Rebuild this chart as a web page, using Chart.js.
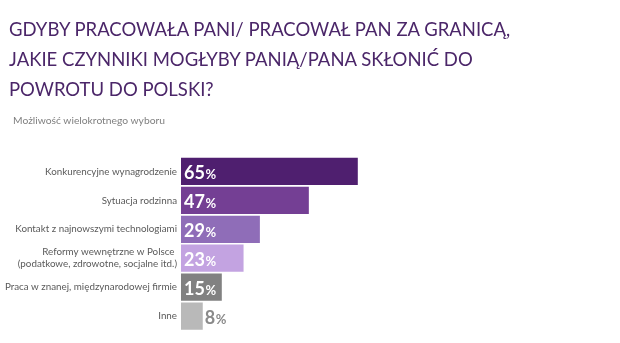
<!DOCTYPE html>
<html>
<head>
<meta charset="utf-8">
<title>Powrót do Polski</title>
<script src="https://cdn.jsdelivr.net/npm/chart.js@4"></script>
<style>
  html, body { margin: 0; padding: 0; background: #fff; }
  #wrap { width: 620px; height: 343px; position: relative; font-family: Lato, sans-serif; }
  #wrap canvas { position: absolute; left: 0; top: 0; }
  .heading {
    position: absolute; left: 9px; top: 14px; margin: 0;
    font-size: 18.5px; font-weight: normal; line-height: 30px;
    color: #4b2669; white-space: nowrap;
  }
  .note {
    position: absolute; left: 13px; top: 114px; margin: 0;
    font-size: 10.3px; line-height: 12px; color: #808080; white-space: nowrap;
  }
</style>
</head>
<body>
<div id="wrap">
  <canvas id="returnChart"></canvas>
  <h1 class="heading" id="heading"></h1>
  <p class="note" id="note"></p>
</div>
<script>
const titleLines = [
  "GDYBY PRACOWAŁA PANI/ PRACOWAŁ PAN ZA GRANICĄ,",
  "JAKIE CZYNNIKI MOGŁYBY PANIĄ/PANA SKŁONIĆ DO",
  "POWROTU DO POLSKI?",
];
const subtitleText = "Możliwość wielokrotnego wyboru";

const categories = [
  "Konkurencyjne wynagrodzenie",
  "Sytuacja rodzinna",
  "Kontakt z najnowszymi technologiami",
  ["Reformy wewnętrzne w Polsce ", "(podatkowe, zdrowotne, socjalne itd.)"],
  "Praca w znanej, międzynarodowej firmie",
  "Inne",
];
const values = [65, 47, 29, 23, 15, 8];

const barColors = ["#4f1f6f", "#743f94", "#8f6db8", "#c3a3e1", "#818181", "#b9b9b9"];

// heading text above the plot
document.getElementById("heading").innerHTML = titleLines.join("<br>");
document.getElementById("note").textContent = subtitleText;

// draws "65%" style labels: big bold number, smaller percent sign
const valueLabels = {
  id: "valueLabels",
  afterDatasetsDraw(chart) {
    const ctx = chart.ctx;
    const meta = chart.getDatasetMeta(0);
    const numFont = "bold 18px Lato";
    const pctFont = "bold 13px Lato";
    ctx.save();
    ctx.textBaseline = "alphabetic";
    ctx.textAlign = "left";
    meta.data.forEach((bar, i) => {
      const num = String(values[i]);
      ctx.font = numFont;
      const numW = ctx.measureText(num).width;
      ctx.font = pctFont;
      const pctW = ctx.measureText("%").width;
      const barW = bar.x - bar.base;
      let x = bar.base + 3;
      let color = "#ffffff";
      // too short for the label, put it after the bar
      if (numW + pctW + 6 > barW) {
        x = bar.x + 2;
        color = "#8a8a8a";
      }
      const y = bar.y + 8;
      ctx.fillStyle = color;
      ctx.font = numFont;
      ctx.fillText(num, x, y);
      ctx.font = pctFont;
      ctx.fillText("%", x + numW + 0.5, y);
    });
    ctx.restore();
  },
};

const config = {
  type: "bar",
  data: {
    labels: categories,
    datasets: [
      {
        data: values,
        backgroundColor: barColors,
        borderWidth: 0,
        barPercentage: 0.94,
        categoryPercentage: 1,
      },
    ],
  },
  options: {
    indexAxis: "y",
    responsive: true,
    maintainAspectRatio: false,
    animation: false,
    layout: {
      padding: { left: 0, right: 167, top: 157, bottom: 12.5 },
    },
    plugins: {
      legend: { display: false },
      tooltip: { enabled: false },
    },
    scales: {
      x: {
        display: false,
        min: 0,
        max: 100,
      },
      y: {
        grid: { display: false, drawTicks: false },
        border: { display: false },
        ticks: {
          color: "#5a5a5a",
          padding: 4,
          font: { family: "Lato", size: 9.8 },
        },
        afterFit(scale) {
          scale.width = 181;
        },
      },
    },
  },
  plugins: [valueLabels],
};

new Chart(document.getElementById("returnChart"), config);
</script>
</body>
</html>
